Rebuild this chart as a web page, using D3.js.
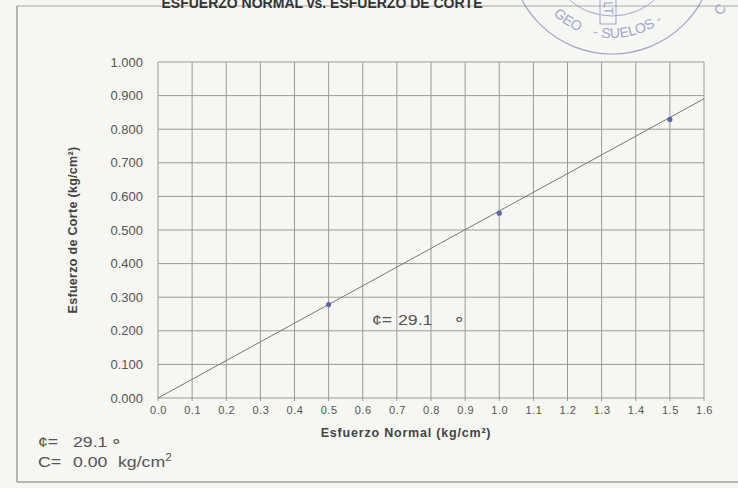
<!DOCTYPE html>
<html>
<head>
<meta charset="utf-8">
<script src="https://cdn.jsdelivr.net/npm/d3@7"></script>
<style>
  html, body { margin: 0; padding: 0; background: #f6f6f3; }
  svg { display: block; font-family: Arial, "Liberation Sans", sans-serif; }
  svg text { white-space: pre; }
</style>
</head>
<body>
<svg id="chart" width="738" height="488"></svg>
<script>
// Shear test results: normal stress vs. shear stress (kg/cm²)
const normalStress = [0.5, 1.0, 1.5];
const shearStress = [0.278, 0.550, 0.829];

// Strength envelope parameters
const frictionAngle = [29.1];   // degrees
const cohesion = [0.00];        // kg/cm²

const xTicks = [0.0, 0.1, 0.2, 0.3, 0.4, 0.5, 0.6, 0.7, 0.8, 0.9, 1.0, 1.1, 1.2, 1.3, 1.4, 1.5, 1.6];
const yTicks = [0.0, 0.1, 0.2, 0.3, 0.4, 0.5, 0.6, 0.7, 0.8, 0.9, 1.0];

const svg = d3.select("#chart");
const W = 738, H = 488;
const plot = { left: 158, right: 704, top: 62, bottom: 398 };

const x = d3.scaleLinear().domain([0, 1.6]).range([plot.left, plot.right]);
const y = d3.scaleLinear().domain([0, 1.0]).range([plot.bottom, plot.top]);

const gridColor = "#9a9a9a";
const textColor = "#555";
const font = "Arial, 'Liberation Sans', sans-serif";

// Page frame
svg.append("line").attr("x1", 17).attr("x2", W).attr("y1", 6).attr("y2", 6)
  .attr("stroke", "#aaa").attr("stroke-width", 1);
svg.append("line").attr("x1", 17).attr("x2", 17).attr("y1", 6).attr("y2", 482)
  .attr("stroke", "#888").attr("stroke-width", 1.2);
svg.append("line").attr("x1", 17).attr("x2", W).attr("y1", 482).attr("y2", 482)
  .attr("stroke", "#777").attr("stroke-width", 1.2);

// Title (top of sheet)
svg.append("text")
  .attr("x", 322).attr("y", 8)
  .attr("text-anchor", "middle")
  .attr("font-size", 14).attr("font-weight", "bold").attr("fill", "#333")
  .text("ESFUERZO NORMAL vs. ESFUERZO DE CORTE");

// Grid
const grid = svg.append("g");
grid.selectAll("line.v").data(xTicks).join("line")
  .attr("x1", d => x(d)).attr("x2", d => x(d))
  .attr("y1", plot.top).attr("y2", plot.bottom + 3)
  .attr("stroke", gridColor).attr("stroke-width", 1);
grid.selectAll("line.h").data(yTicks).join("line")
  .attr("x1", plot.left).attr("x2", plot.right)
  .attr("y1", d => y(d)).attr("y2", d => y(d))
  .attr("stroke", gridColor).attr("stroke-width", 1);

// Axes (labels only; the grid forms the lines)
const xAxis = d3.axisBottom(x).tickValues(xTicks).tickFormat(d3.format(".1f")).tickSize(0).tickPadding(8);
const gx = svg.append("g").attr("transform", `translate(0,${plot.bottom})`).call(xAxis);
gx.select(".domain").remove();
gx.selectAll("text").attr("font-size", 11).attr("letter-spacing", 0.5)
  .attr("fill", textColor).attr("font-family", font);

const yAxis = d3.axisLeft(y).tickValues(yTicks).tickFormat(d3.format(".3f")).tickSize(0).tickPadding(15);
const gy = svg.append("g").attr("transform", `translate(${plot.left},0)`).call(yAxis);
gy.select(".domain").remove();
gy.selectAll("text").attr("font-size", 13).attr("fill", textColor).attr("font-family", font);

// Axis titles
svg.append("text")
  .attr("x", 406).attr("y", 437)
  .attr("text-anchor", "middle")
  .attr("font-size", 12.5).attr("letter-spacing", 0.8)
  .attr("font-weight", "bold").attr("fill", "#444")
  .text("Esfuerzo Normal (kg/cm²)");
svg.append("text")
  .attr("transform", `translate(77,${(plot.top + plot.bottom) / 2}) rotate(-90)`)
  .attr("text-anchor", "middle")
  .attr("font-size", 12.5).attr("letter-spacing", 0.3)
  .attr("font-weight", "bold").attr("fill", "#444")
  .text("Esfuerzo de Corte (kg/cm²)");

// Strength envelope: tau = c + sigma * tan(phi)
const tanPhi = Math.tan(frictionAngle[0] * Math.PI / 180);
const envelope = x.domain().map(s => [s, cohesion[0] + s * tanPhi]);
svg.append("path")
  .datum(envelope)
  .attr("fill", "none").attr("stroke", "#777").attr("stroke-width", 1)
  .attr("d", d3.line().x(d => x(d[0])).y(d => y(d[1])));

// Test points
svg.selectAll("circle.pt").data(normalStress).join("circle")
  .attr("cx", d => x(d)).attr("cy", (d, i) => y(shearStress[i]))
  .attr("r", 2.6).attr("fill", "#5a68a8");

// Report lettering: slightly wide, drawn with a horizontal stretch
function label(xp, yp, t, size = 15) {
  return svg.append("text")
    .attr("transform", `translate(${xp},${yp}) scale(1.18,1)`)
    .attr("font-size", size).attr("fill", textColor).text(t);
}

// In-plot friction angle label
label(372, 325, "¢=");
label(398, 325, frictionAngle[0].toFixed(1));
label(455, 330, "°", 18);

// Summary below the chart
label(38, 447, "¢=");
label(73, 447, frictionAngle[0].toFixed(1));
label(112, 452, "°", 18);
label(38, 467, "C=");
label(73, 467, cohesion[0].toFixed(2));
const unit = label(118, 467, "kg/cm");
unit.append("tspan").attr("font-size", 10).attr("dy", -6).text("2");

// Laboratory stamp (partly off the top edge of the sheet)
const stampColor = "#8b93c4";
const cx = 612, cy = -48;
const stamp = svg.append("g").attr("transform", `translate(${cx},${cy})`)
  .attr("fill", "none").attr("stroke", stampColor).attr("opacity", 0.8);
stamp.append("circle").attr("r", 102).attr("stroke-width", 1.2);
stamp.append("circle").attr("r", 64).attr("stroke-width", 1);
stamp.append("rect").attr("x", -12).attr("y", 42).attr("width", 16).attr("height", 30)
  .attr("stroke-width", 1);

const rText = 86;
const a0 = 172 * Math.PI / 180, a1 = 8 * Math.PI / 180;
svg.append("defs").append("path").attr("id", "stampArc")
  .attr("d", `M${cx + rText * Math.cos(a0)},${cy + rText * Math.sin(a0)} ` +
             `A${rText},${rText} 0 0,0 ${cx + rText * Math.cos(a1)},${cy + rText * Math.sin(a1)}`);
const stampLabels = [["GEO", "30%"], ["- SUELOS -", "57%"]];
stampLabels.forEach(([t, off]) => {
  svg.append("text").attr("font-size", 14).attr("fill", stampColor).attr("opacity", 0.8)
    .append("textPath").attr("href", "#stampArc").attr("startOffset", off)
    .attr("text-anchor", "middle").text(t);
});
svg.append("text").attr("transform", "translate(724,12) rotate(-55)")
  .attr("font-size", 14).attr("fill", stampColor).attr("opacity", 0.8)
  .attr("text-anchor", "middle").text("C");
svg.append("text").attr("transform", `translate(${cx - 8},8) rotate(90)`)
  .attr("font-size", 12).attr("fill", stampColor).attr("opacity", 0.8)
  .attr("text-anchor", "middle").text("LT");
</script>
</body>
</html>
